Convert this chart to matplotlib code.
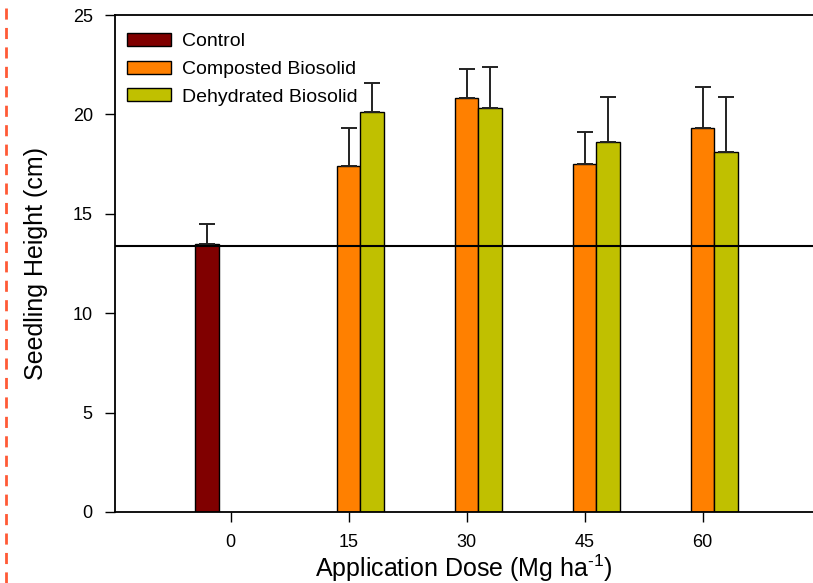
import matplotlib
matplotlib.use("Agg")
import matplotlib.pyplot as plt
from matplotlib.lines import Line2D
import numpy as np

plt.rcParams['font.family'] = ['Liberation Sans', 'DejaVu Sans']
plt.rcParams['mathtext.fontset'] = 'custom'
plt.rcParams['mathtext.rm'] = 'Liberation Sans'
plt.rcParams['mathtext.it'] = 'Liberation Sans'

doses = ["0", "15", "30", "45", "60"]
control_mean = [13.5]
control_err = [1.0]
composted_mean = [17.4, 20.8, 17.5, 19.3]
composted_err = [1.9, 1.5, 1.6, 2.1]
dehydrated_mean = [20.1, 20.3, 18.6, 18.1]
dehydrated_err = [1.5, 2.1, 2.3, 2.8]
reference_line = 13.4

W, H = 813, 583
fig = plt.figure(figsize=(W / 100, H / 100), dpi=100)
left_px, right_px, top_px, bottom_px = 115, 813, 15, 512
ax = fig.add_axes([left_px / W, (H - bottom_px) / H,
                   (right_px - left_px) / W, (bottom_px - top_px) / H])

x = np.arange(len(doses))
bw = 0.2
err_kw = dict(ecolor='#222222', elinewidth=1.4, capsize=5.5, capthick=1.4)

ax.bar(x[:1] - bw, control_mean, bw, color='#800000', edgecolor='black',
       linewidth=1.0, yerr=[[0] * len(control_err), control_err],
       error_kw=err_kw, label='Control', zorder=2)
ax.bar(x[1:], composted_mean, bw, color='#FF8000', edgecolor='black',
       linewidth=1.0, yerr=[[0] * len(composted_err), composted_err],
       error_kw=err_kw, label='Composted Biosolid', zorder=2)
ax.bar(x[1:] + bw, dehydrated_mean, bw, color='#C0C000', edgecolor='black',
       linewidth=1.0, yerr=[[0] * len(dehydrated_err), dehydrated_err],
       error_kw=err_kw, label='Dehydrated Biosolid', zorder=2)

ax.axhline(reference_line, color='black', linewidth=1.5, zorder=3)

ax.set_xlim(-0.98, -0.98 + (right_px - left_px) / 118)
ax.set_ylim(0, 25)
ax.set_xticks(x)
ax.set_xticklabels(doses)
ax.set_yticks([0, 5, 10, 15, 20, 25])
ax.tick_params(axis='both', direction='out', length=7, width=1.0,
               labelsize=13, color='black')
ax.tick_params(axis='y', pad=9)
ax.tick_params(axis='x', pad=9)
for s in ['left', 'bottom', 'top']:
    ax.spines[s].set_linewidth(1.3)
ax.spines['right'].set_visible(False)

ax.set_ylabel('Seedling Height (cm)', fontsize=18, labelpad=18)
ax.set_xlabel('Application Dose (Mg ha$^{\\text{-1}}$)', fontsize=18,
              labelpad=1)

ax.legend(loc='upper left',
          bbox_to_anchor=(12 / (right_px - left_px), 1 - 18 / (bottom_px - top_px)),
          frameon=False, fontsize=14, handlelength=2.26, handleheight=0.67,
          handletextpad=0.55, labelspacing=0.52, borderaxespad=0, borderpad=0)

fig.add_artist(Line2D([6 / W, 6 / W], [0, 1], transform=fig.transFigure,
                      color='#FF5A36', linewidth=2, linestyle=(0, (4, 3))))

fig.savefig('out.png', dpi=100)
